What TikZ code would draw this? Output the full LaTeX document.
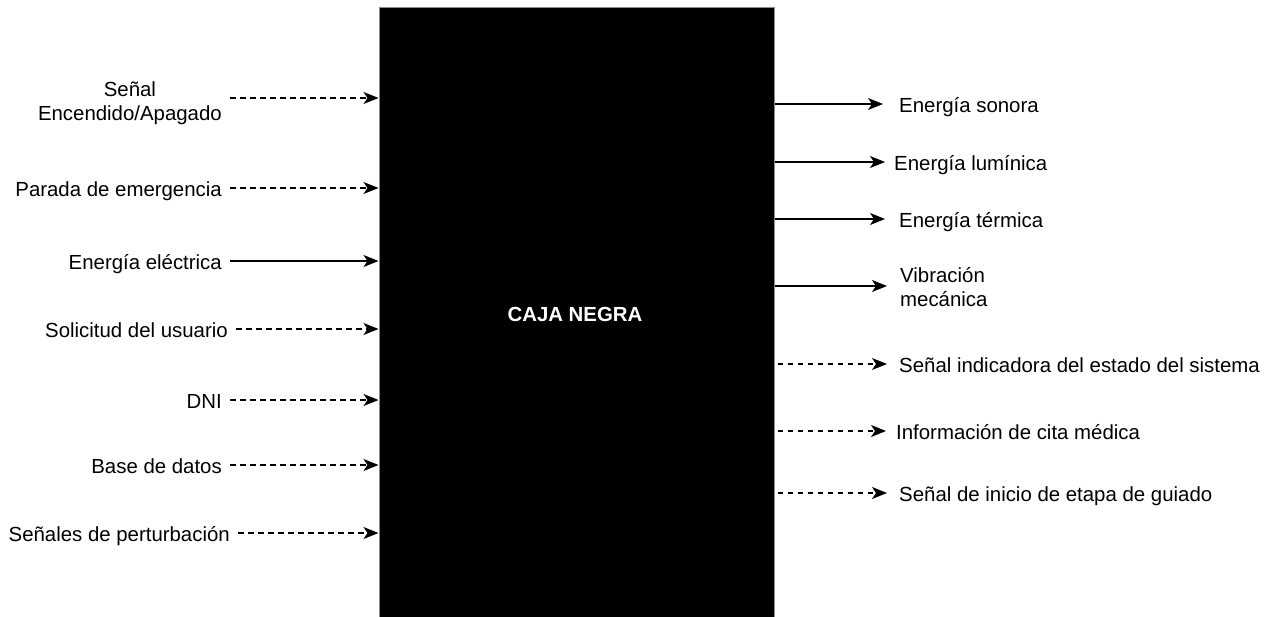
\documentclass[tikz,border=0pt]{standalone}
\usepackage{fontspec}
\setmainfont{Liberation Sans}
\usetikzlibrary{arrows.meta}
\begin{document}
\begin{tikzpicture}[x=1pt,y=-1pt,
  font=\fontsize{20.4}{23.5}\selectfont,
  flow/.style={line width=1.4pt,-{Stealth[length=15pt,width=12pt,inset=4pt]}},
  sig/.style={flow,dash pattern=on 5.5pt off 4.5pt},
  oneline/.style={text height=18pt,text depth=1.5pt},
  llab/.style={anchor=east,inner ysep=0pt,inner xsep=8pt},
  rlab/.style={anchor=west,inner ysep=0pt,inner xsep=12pt}]
\useasboundingbox (0,0) rectangle (1277,616);
\clip (0,0) rectangle (1277,616);

% the black box
\node (box) [anchor=north west,fill=black,draw=black!45,line width=1pt,
  minimum width=395pt,minimum height=640pt,inner sep=0pt] at (378.5,6.5) {};
\node (title) [oneline,text=white,font=\fontsize{20.4}{23.5}\selectfont\bfseries] at (575,313) {CAJA NEGRA};

% inputs
\node (in1) [llab,align=center] at (230,103) {Señal\\Encendido/Apagado};
\node (in2) [llab,oneline] at (230,188) {Parada de emergencia};
\node (in3) [llab,oneline] at (230,261) {Energía eléctrica};
\node (in4) [llab,oneline] at (236,329) {Solicitud del usuario};
\node (in5) [llab,oneline] at (230,400) {DNI};
\node (in6) [llab,oneline] at (230,465) {Base de datos};
\node (in7) [llab,oneline] at (238,533) {Señales de perturbación};

\draw[sig]  ([yshift=5pt]in1.east) -- ([yshift=5pt]in1.east -| box.west);
\draw[sig]  (in2.east) -- (in2.east -| box.west);
\draw[flow] (in3.east) -- (in3.east -| box.west);
\draw[sig]  (in4.east) -- (in4.east -| box.west);
\draw[sig]  (in5.east) -- (in5.east -| box.west);
\draw[sig]  (in6.east) -- (in6.east -| box.west);
\draw[sig]  (in7.east) -- (in7.east -| box.west);

% outputs
\node (out1) [rlab,oneline,inner xsep=16pt] at (883,104) {Energía sonora};
\node (out2) [rlab,oneline,inner xsep=9pt]  at (885,162) {Energía lumínica};
\node (out3) [rlab,oneline,inner xsep=14pt] at (885,219) {Energía térmica};
\node (out4) [rlab,inner xsep=13pt,align=left] at (887,287) {Vibración\\mecánica};
\node (out5) [rlab,oneline] at (887,364) {Señal indicadora del estado del sistema};
\node (out6) [rlab,oneline,inner xsep=10pt] at (886,431) {Información de cita médica};
\node (out7) [rlab,oneline] at (887,493) {Señal de inicio de etapa de guiado};

\draw[flow] (out1.west -| box.east) -- (out1.west);
\draw[flow] (out2.west -| box.east) -- (out2.west);
\draw[flow] (out3.west -| box.east) -- (out3.west);
\draw[flow] ([yshift=1pt]out4.west -| box.east) -- ([yshift=1pt]out4.west);
\draw[sig,shorten <=3pt] (out5.west -| box.east) -- (out5.west);
\draw[sig,shorten <=3pt] (out6.west -| box.east) -- (out6.west);
\draw[sig,shorten <=3pt] (out7.west -| box.east) -- (out7.west);
\end{tikzpicture}
\end{document}
